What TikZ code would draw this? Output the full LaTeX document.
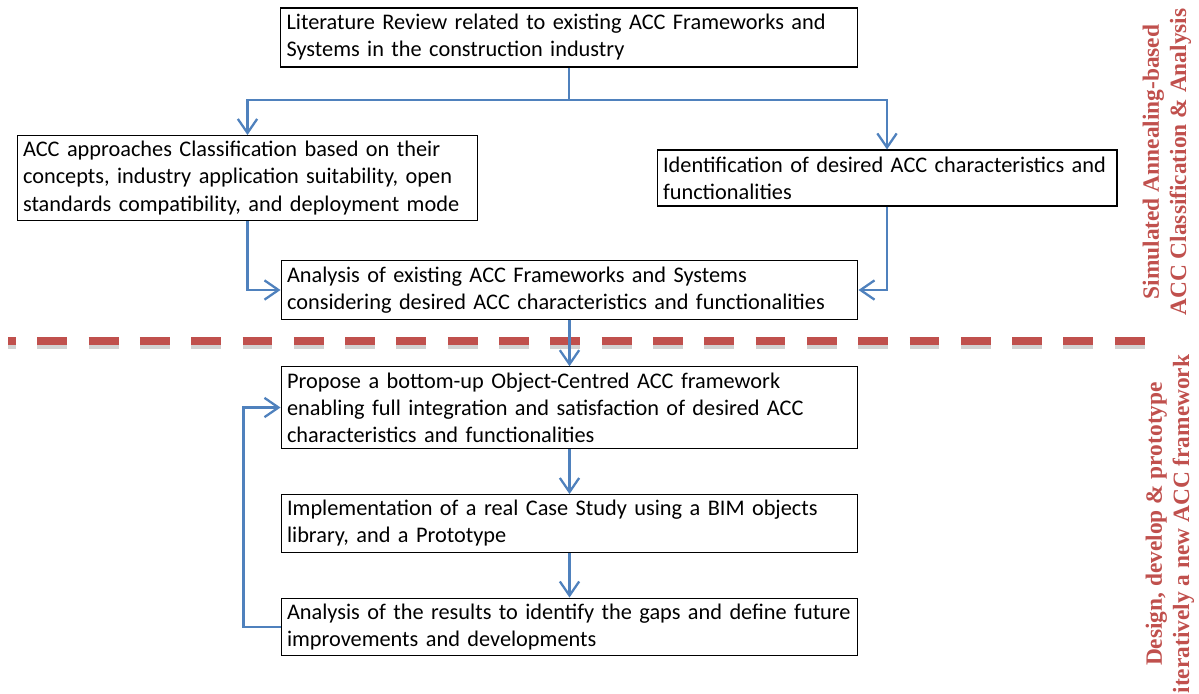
\documentclass[tikz,border=0pt]{standalone}
\usepackage{fontspec}
\setmainfont{Carlito}
\newfontfamily\tms{Liberation Serif}
\usetikzlibrary{arrows.meta}
\definecolor{acc_blue}{RGB}{79, 129, 189}
\definecolor{acc_red}{RGB}{192, 80, 77}
\tikzstyle{bx}=[rectangle,draw=black,line width=0.6pt,inner xsep=0.12cm,
  align=left,font=\fontsize{12.7}{15.4}\selectfont]
\tikzstyle{ar}=[draw=acc_blue,line width=1.3pt,
  -{Straight Barb[length=8pt,width=11pt,line width=1.3pt]}]
\tikzstyle{ln}=[draw=acc_blue,line width=1.3pt]
\tikzstyle{ph}=[acc_red,rotate=90,align=center,
  font=\tms\bfseries\fontsize{13.3}{15.5}\selectfont]

\begin{document}
\begin{tikzpicture}[x=0.02cm,y=-0.02cm]
    \useasboundingbox (0,0) rectangle (1199,693);
    %\begin{pgfonlayer}{nodelayer}
    \node [style=bx,minimum width=11.54cm,minimum height=1.18cm,text width=11.3cm] (lit) at (569, 37.5)
      {Literature Review related to existing ACC Frameworks and\\Systems in the construction industry};
    \node [style=bx,minimum width=9.22cm,minimum height=1.7cm,text width=8.98cm] (cls) at (247.5, 178)
      {ACC approaches Classification based on their\\concepts, industry application suitability, open\\standards compatibility, and deployment mode};
    \node [style=bx,minimum width=9.2cm,minimum height=1.12cm,text width=8.96cm] (idn) at (887, 178)
      {Identification of desired ACC characteristics and\\functionalities};
    \node [style=bx,minimum width=11.54cm,minimum height=1.12cm,text width=11.3cm] (an1) at (569.5, 290)
      {Analysis of existing ACC Frameworks and Systems\\considering desired ACC characteristics and functionalities};
    \node [style=bx,minimum width=11.54cm,minimum height=1.62cm,text width=11.3cm] (pro) at (569.5, 407.5)
      {Propose a bottom-up Object-Centred ACC framework\\enabling full integration and satisfaction of desired ACC\\characteristics and functionalities};
    \node [style=bx,minimum width=11.54cm,minimum height=1.1cm,text width=11.3cm] (imp) at (569.5, 523.5)
      {Implementation of a real Case Study using a BIM objects\\library, and a Prototype};
    \node [style=bx,minimum width=11.54cm,minimum height=1.12cm,text width=11.3cm] (res) at (569.5, 627)
      {Analysis of the results to identify the gaps and define future\\improvements and developments};
    \coordinate (j) at (569, 100);
    \node [style=ph] (ph1) at (1167, 162) {Simulated Annealing-based\\ACC Classification \& Analysis};
    \node [style=ph] (ph2) at (1170, 524) {Design, develop \& prototype\\iteratively a new ACC framework};
    \coordinate (d1) at (8, 341);
    \coordinate (d2) at (1146, 341);
    %\end{pgfonlayer}
    %\begin{pgfonlayer}{edgelayer}
    \draw [black!35,opacity=0.5,line width=4pt,dash pattern=on 17pt off 12.2pt,dash phase=12.5pt]
      ([yshift=-2.5pt]d1) -- ([yshift=-2.5pt]d2);
    \draw [acc_red,line width=4pt,dash pattern=on 17pt off 12.2pt,dash phase=12.5pt] (d1) -- (d2);
    \draw [style=ln] (lit) -- (j);
    \draw [style=ar] (j) -| (cls);
    \draw [style=ar] (j) -| (idn);
    \draw [style=ar] (cls) |- (an1);
    \draw [style=ar] (idn) |- (an1);
    \draw [style=ar] (an1) -- (pro);
    \draw [style=ar] (pro) -- (imp);
    \draw [style=ar] (imp) -- (res);
    \draw [style=ar] (res.west) -- ++(-37,0) |- (pro.west);
    %\end{pgfonlayer}
\end{tikzpicture}
\end{document}
